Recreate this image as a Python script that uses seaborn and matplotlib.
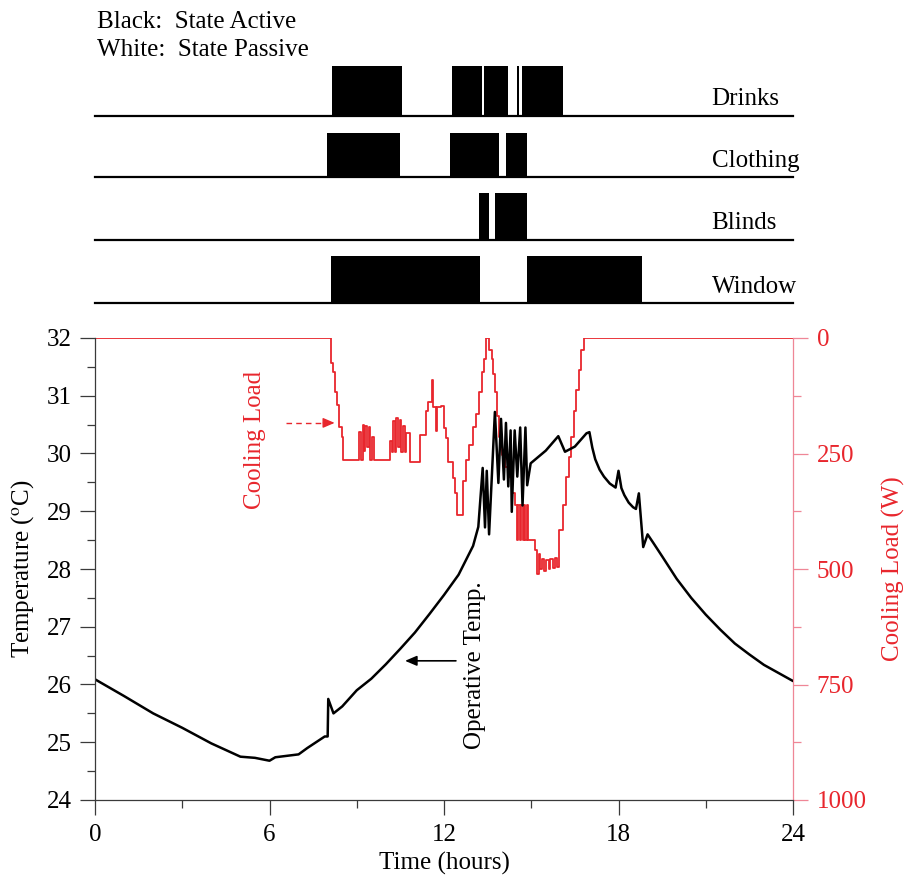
import numpy as np
import pandas as pd
import matplotlib
matplotlib.use("Agg")
import matplotlib.pyplot as plt
import seaborn as sns

# ---------------------------------------------------------------- data
# operative temperature (degC)
temp_hours = [0, 1, 2, 3, 4, 5, 5.5, 6.0, 6.2, 7.0, 7.3, 7.9, 8.0, 8.02, 8.2, 8.5,
              9.0, 9.5, 10.0, 10.5, 11.0, 11.5, 12.0, 12.5, 13.0, 13.18,
              13.33, 13.41, 13.47, 13.55, 13.75, 13.87, 13.96, 14.06, 14.13, 14.21,
              14.29, 14.33, 14.43, 14.52, 14.62, 14.70, 14.80, 14.86, 14.98,
              15.5, 15.93, 16.16, 16.5, 16.9, 17.0, 17.1, 17.2, 17.35, 17.5, 17.7,
              17.9, 18.0, 18.1, 18.2, 18.35, 18.5, 18.6, 18.7, 18.85, 19.0, 19.2,
              19.5, 20, 20.5, 21, 21.5, 22, 22.5, 23, 23.5, 24]
temp_values = [26.09, 25.80, 25.50, 25.25, 24.98, 24.75, 24.73, 24.68, 24.74, 24.79, 24.90,
               25.10, 25.10, 25.75, 25.50, 25.62,
               25.90, 26.10, 26.35, 26.62, 26.90, 27.22, 27.55, 27.90, 28.40, 28.73,
               29.75, 28.72, 29.70, 28.60, 30.72, 29.49, 30.60, 29.55, 30.53, 29.43,
               30.40, 28.99, 30.40, 29.60, 30.45, 29.10, 30.45, 29.45, 29.83,
               30.05, 30.30, 30.03, 30.12, 30.35, 30.37, 30.10, 29.90, 29.72, 29.60, 29.48,
               29.41, 29.70, 29.40, 29.28, 29.15, 29.07, 29.04, 29.31, 28.38, 28.60, 28.45,
               28.22, 27.83, 27.50, 27.21, 26.95, 26.71, 26.52, 26.34, 26.20, 26.06]

# cooling load (W), stepwise, value holds until next time
load_hours = [0, 8.11, 8.17, 8.25, 8.31, 8.40, 8.48, 8.54,
              9.09, 9.14, 9.20, 9.25, 9.30, 9.36, 9.41, 9.47, 9.52, 9.58, 9.63,
              10.14, 10.20, 10.25, 10.31, 10.36, 10.42, 10.47, 10.53, 10.60, 10.65, 10.70,
              10.83, 11.17, 11.38, 11.44, 11.58, 11.62, 11.73, 11.77, 11.90,
              12.00, 12.07, 12.15, 12.30, 12.38, 12.46, 12.64, 12.75, 12.87,
              13.00, 13.10, 13.20, 13.30, 13.36, 13.45, 13.56, 13.64, 13.70, 13.75,
              13.83, 13.90, 13.98, 14.10, 14.21, 14.33, 14.44,
              14.50, 14.55, 14.60, 14.65, 14.70, 14.75, 14.80, 14.85, 14.90, 14.97,
              15.14, 15.20, 15.25, 15.30, 15.37, 15.45, 15.50, 15.60, 15.65, 15.75,
              15.80, 15.90, 15.97, 16.08, 16.20, 16.30, 16.37, 16.47, 16.55, 16.64,
              16.72, 16.80, 24]
load_values = [0, 55, 73, 116, 145, 192, 214, 264,
               203, 264, 188, 245, 190, 235, 192, 264, 215, 264, 264,
               222, 246, 180, 246, 174, 236, 178, 246, 190, 246, 205,
               268, 211, 159, 138, 91, 150, 202, 150, 147,
               195, 217, 268, 304, 336, 383, 309, 265, 232,
               193, 164, 117, 74, 45, 0, 26, 45, 77, 117,
               168, 214, 254, 279, 300, 336, 361,
               437, 361, 437, 361, 437, 361, 437, 361, 437, 437,
               459, 510, 468, 500, 478, 505, 480, 500, 478, 498,
               476, 495, 416, 361, 300, 257, 214, 157, 113, 69,
               26, 0, 0]

# on/off intervals (hours) for the four state strips
drinks_on = [(8.14, 10.57), (12.29, 13.30), (13.39, 14.19), (14.50, 14.57), (14.68, 16.08)]
clothing_on = [(7.97, 10.49), (12.22, 13.90), (14.12, 14.84)]
blinds_on = [(13.20, 13.56), (13.77, 14.87)]
window_on = [(8.10, 13.24), (14.84, 18.80)]
strip_names = ["Drinks", "Clothing", "Blinds", "Window"]

# ---------------------------------------------------------------- style
sns.set_style("ticks")
plt.rcParams["font.family"] = ["Liberation Serif", "DejaVu Serif"]
plt.rcParams["mathtext.fontset"] = "stix"
plt.rcParams["text.color"] = "black"
plt.rcParams["axes.labelcolor"] = "black"
plt.rcParams["xtick.labelcolor"] = "black"
plt.rcParams["ytick.labelcolor"] = "black"

RED = "#e8262d"
PINK = "#ef8696"
GREY = "#3a3a3a"

W, H = 905, 882
fig = plt.figure(figsize=(W / 100, H / 100), dpi=100)

# ---------------------------------------------------------------- strips
strip_px = [(66, 116), (132.7, 177), (192.7, 239.5), (256, 303.5)]  # (top, baseline)
for name, intervals, (top, base) in zip(strip_names,
                                         [drinks_on, clothing_on, blinds_on, window_on],
                                         strip_px):
    axs = fig.add_axes([95 / W, 1 - base / H, 698 / W, (base - top) / H])
    axs.broken_barh([(a, b - a) for a, b in intervals], (0, 1), facecolor="black",
                    edgecolor="none")
    axs.set_xlim(0, 24)
    axs.set_ylim(0, 1)
    for s in ["top", "right", "left"]:
        axs.spines[s].set_visible(False)
    axs.spines["bottom"].set_linewidth(1.6)
    axs.spines["bottom"].set_color("black")
    axs.set_xticks([])
    axs.set_yticks([])
    axs.patch.set_visible(False)
    axs.text(21.2, 0.22, name, fontsize=18, va="baseline", ha="left")

fig.text(97 / W, 1 - 28.5 / H, "Black:  State Active", fontsize=18, va="baseline")
fig.text(97 / W, 1 - 56.5 / H, "White:  State Passive", fontsize=18, va="baseline")

# ---------------------------------------------------------------- main plot
ax = fig.add_axes([95 / W, 1 - 800 / H, 698 / W, 462 / H])
ax2 = ax.twinx()

df_temp = pd.DataFrame({"hours": temp_hours, "temp": temp_values})
df_load = pd.DataFrame({"hours": load_hours, "load": load_values})

sns.lineplot(data=df_load, x="hours", y="load", ax=ax2, color=RED, lw=1.3,
             estimator=None, sort=False, drawstyle="steps-post")
sns.lineplot(data=df_temp, x="hours", y="temp", ax=ax, color="black", lw=1.8,
             estimator=None, sort=False)

ax.set_zorder(ax2.get_zorder() + 1)
ax.patch.set_visible(False)

ax.set_xlim(0, 24)
ax.set_ylim(24, 32)
ax2.set_ylim(1000, 0)

ax.set_xticks(np.arange(0, 25, 6))
ax.set_xticks(np.arange(3, 24, 6), minor=True)
ax.set_yticks(np.arange(24, 33, 1))
ax.set_yticks(np.arange(24.5, 32, 1), minor=True)
ax2.set_yticks(np.arange(0, 1001, 250))
ax2.set_yticks(np.arange(125, 1000, 250), minor=True)

for s in ["top", "right"]:
    ax.spines[s].set_visible(False)
for s in ["top", "left", "bottom"]:
    ax2.spines[s].set_visible(False)
for s in ["left", "bottom"]:
    ax.spines[s].set_color(GREY)
    ax.spines[s].set_linewidth(0.9)
ax2.spines["right"].set_color(PINK)
ax2.spines["right"].set_linewidth(0.9)

ax.tick_params(which="major", direction="out", length=11, width=0.9, color=GREY,
               labelsize=18, pad=6)
ax.tick_params(which="minor", direction="out", length=5.5, width=0.9, color=GREY)
ax2.tick_params(which="major", direction="out", length=11, width=0.9, color=PINK,
                labelcolor=RED, labelsize=18, pad=6)
ax2.tick_params(which="minor", direction="out", length=5.5, width=0.9, color=PINK)

ax.set_xlabel("Time (hours)", fontsize=18)
ax.set_ylabel(r"Temperature ($^{\mathrm{o}}$C)", fontsize=18)
ax2.set_ylabel("Cooling Load (W)", fontsize=18, color=RED)
ax.xaxis.set_label_coords(0.5, -0.112)
ax.yaxis.set_label_coords(-0.085, 0.5)
ax2.yaxis.set_label_coords(1.127, 0.5)

# annotations
ax.text(5.5, 30.23, "Cooling Load", rotation=90, color=RED, fontsize=18,
        ha="center", va="center")
ax.plot([6.57, 7.9], [30.53, 30.53], ls=(0, (4, 3)), color=RED, lw=1)
ax.annotate("", xy=(8.24, 30.53), xytext=(7.85, 30.53),
            arrowprops=dict(arrowstyle="-|>,head_length=0.7,head_width=0.3",
                            color=RED, lw=1, shrinkA=0, shrinkB=0))

ax.text(13.07, 26.34, "Operative Temp.", rotation=90, color="black", fontsize=18,
        ha="center", va="center")
ax.annotate("", xy=(10.66, 26.41), xytext=(12.41, 26.41),
            arrowprops=dict(arrowstyle="-|>,head_length=0.7,head_width=0.3",
                            color="black", lw=1.2, shrinkA=0, shrinkB=0))

fig.savefig("out.png", dpi=100)
plt.close("all")
